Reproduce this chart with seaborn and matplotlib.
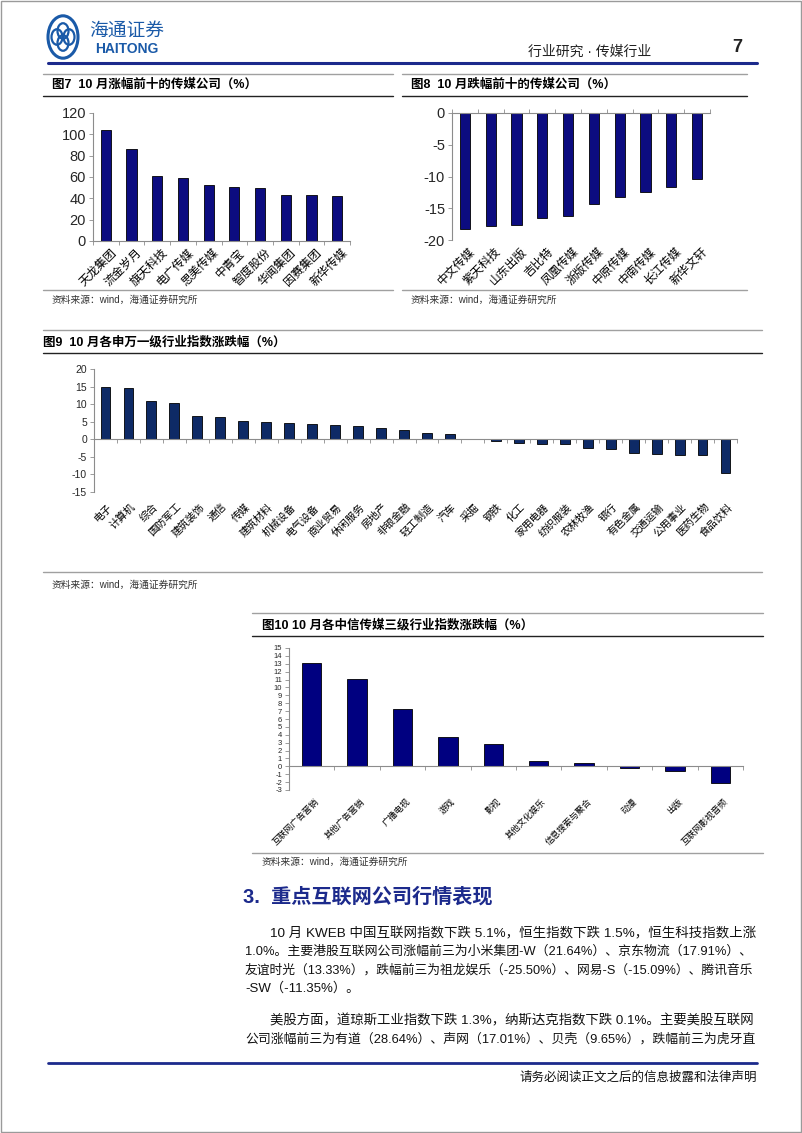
import numpy as np
import matplotlib
matplotlib.use('Agg')
import matplotlib.pyplot as plt
import seaborn as sns
from matplotlib.lines import Line2D
from matplotlib.patches import Circle, Rectangle

# ---- data ----
fig7_names = ['天龙集团', '流金岁月', '旗天科技', '电广传媒', '思美传媒',
              '中青宝', '智度股份', '华闻集团', '因赛集团', '新华传媒']
fig7_vals = [104.0, 85.8, 61.0, 58.7, 52.2, 50.3, 49.3, 43.4, 42.7, 42.1]

fig8_names = ['中文传媒', '紫天科技', '山东出版', '吉比特', '凤凰传媒',
              '浙版传媒', '中原传媒', '中南传媒', '长江传媒', '新华文轩']
fig8_vals = [-18.3, -17.8, -17.7, -16.6, -16.2, -14.3, -13.3, -12.5, -11.6, -10.4]

fig9_names = ['电子', '计算机', '综合', '国防军工', '建筑装饰', '通信', '传媒',
              '建筑材料', '机械设备', '电气设备', '商业贸易', '休闲服务', '房地产',
              '非银金融', '轻工制造', '汽车', '采掘', '钢铁', '化工', '家用电器',
              '纺织服装', '农林牧渔', '银行', '有色金属', '交通运输', '公用事业',
              '医药生物', '食品饮料']
fig9_vals = [14.8, 14.6, 10.9, 10.4, 6.6, 6.3, 5.2, 4.9, 4.7, 4.4, 4.1, 3.7, 3.1,
             2.5, 1.9, 1.4, 0.0, -0.4, -1.1, -1.4, -1.4, -2.4, -2.7, -3.8, -4.1,
             -4.4, -4.6, -9.6]

fig10_names = ['互联网广告营销', '其他广告营销', '广播电视', '游戏', '影视',
               '其他文化娱乐', '信息搜索与聚合', '动漫', '出版', '互联网影视音频']
fig10_vals = [13.15, 11.06, 7.25, 3.77, 2.85, 0.63, 0.38, -0.2, -0.59, -2.09]

para_lines = [
    '10 月 KWEB 中国互联网指数下跌 5.1%，恒生指数下跌 1.5%，恒生科技指数上涨',
    '1.0%。主要港股互联网公司涨幅前三为小米集团-W（21.64%）、京东物流（17.91%）、',
    '友谊时光（13.33%），跌幅前三为祖龙娱乐（-25.50%）、网易-S（-15.09%）、腾讯音乐',
    '-SW（-11.35%）。',
]
para2_lines = [
    '美股方面，道琼斯工业指数下跌 1.3%，纳斯达克指数下跌 0.1%。主要美股互联网',
    '公司涨幅前三为有道（28.64%）、声网（17.01%）、贝壳（9.65%），跌幅前三为虎牙直',
]

sns.set_theme(style='white')
plt.rcParams['font.family'] = ['Liberation Sans', 'Noto Sans CJK SC', 'DejaVu Sans']

W, H = 802, 1133
fig = plt.figure(figsize=(W / 100, H / 100), dpi=100)
fig.patch.set_facecolor('white')

GRAY = '#8c8c8c'
NAVY = '#1c2a8c'


def rect(x0, y0, x1, y1):
    return [x0 / W, 1 - y1 / H, (x1 - x0) / W, (y1 - y0) / H]


def hline(y, x0, x1, color, lw):
    fig.add_artist(Line2D([x0 / W, x1 / W], [1 - y / H, 1 - y / H],
                          transform=fig.transFigure, color=color, lw=lw))


def ftext(x, y, s, **kw):
    return fig.text(x / W, 1 - y / H, s, **kw)


def bar_chart(box, names, vals, ylim, yticks, color, width, ysize, xsize,
              tick_dir='out', lab_off=(2, -7)):
    ax = fig.add_axes(rect(*box))
    sns.barplot(x=names, y=vals, color=color, width=width, edgecolor='black',
                linewidth=0.6, saturation=1, ax=ax)
    n = len(names)
    ax.set_xlim(-0.5, n - 0.5)
    ax.set_ylim(*ylim)
    ax.set_yticks(yticks)
    ax.set_yticklabels([str(t) for t in yticks], fontsize=ysize)
    ax.set_xlabel('')
    ax.set_ylabel('')
    for s in ['top', 'right']:
        ax.spines[s].set_visible(False)
    ax.spines['left'].set_color(GRAY)
    ax.spines['left'].set_linewidth(0.8)
    ax.spines['bottom'].set_position(('data', 0))
    ax.spines['bottom'].set_color(GRAY)
    ax.spines['bottom'].set_linewidth(0.8)
    ax.set_xticks(range(n))
    ax.set_xticklabels([])
    ax.set_xticks(np.arange(-0.5, n, 1.0), minor=True)
    ax.tick_params(axis='x', which='major', length=0)
    ax.tick_params(axis='x', which='minor', length=3, width=0.6, color=GRAY,
                   direction=tick_dir, bottom=True)
    ax.tick_params(axis='y', length=3, width=0.6, color=GRAY, left=True,
                   direction='out', pad=2)
    ax.patch.set_alpha(0)
    for i, name in enumerate(names):
        ax.annotate(name, xy=(i, 0), xycoords=('data', 'axes fraction'),
                    xytext=lab_off, textcoords='offset points', rotation=45,
                    ha='right', va='top', rotation_mode='anchor',
                    fontsize=xsize, color='black')
    return ax


# ---- page frame and header ----
fig.add_artist(Rectangle((0.001, 0.001), 0.998, 0.998, transform=fig.transFigure,
                         fill=False, edgecolor='#9a9a9a', lw=1.0))
fig.add_artist(Circle((63 / W, 1 - 37 / H), 15 / W, transform=fig.transFigure,
                      fill=False, edgecolor='#1a5aa8', lw=2.2))
for dx, dy in [(-6, 0), (6, 0), (0, -6), (0, 6)]:
    fig.add_artist(Circle(((63 + dx) / W, 1 - (37 + dy) / H), 5.5 / W,
                          transform=fig.transFigure, fill=False,
                          edgecolor='#1a5aa8', lw=1.6))
ftext(89, 31, '海通证券', fontsize=13.5, color='#1a5aa8', ha='left', va='center')
ftext(95, 49, 'HAITONG', fontsize=10, color='#1a5aa8', ha='left', va='center',
      fontweight='bold')
ftext(590, 52, '行业研究 · 传媒行业', fontsize=10, color='#222222', ha='center',
      va='center')
ftext(737, 47, '7', fontsize=13, color='#222222', ha='center', va='center',
      fontweight='bold')
hline(63, 48, 757, NAVY, 2.2)

# ---- panel decorations ----
panels = [
    (43, 393, 74, 96, 290, 52, 85, 52, 300, '图7  10 月涨幅前十的传媒公司（%）'),
    (402, 747, 74, 96, 290, 411, 85, 411, 300, '图8  10 月跌幅前十的传媒公司（%）'),
    (43, 762, 330, 353, 572, 43, 342, 52, 585, '图9  10 月各申万一级行业指数涨跌幅（%）'),
    (252, 763, 613, 636, 853, 262, 625, 262, 862, '图10 10 月各中信传媒三级行业指数涨跌幅（%）'),
]
for x0, x1, ytop, yblk, ybot, tx, ty, sx, sy, title in panels:
    hline(ytop, x0, x1, '#a0a0a0', 1.0)
    hline(yblk, x0, x1, '#222222', 1.0)
    hline(ybot, x0, x1, '#a0a0a0', 1.0)
    ftext(tx, ty, title, fontsize=9, fontweight='bold', ha='left', va='center',
          color='black')
    ftext(sx, sy, '资料来源：wind，海通证券研究所', fontsize=7,
          ha='left', va='center', color='#333333')

# ---- charts ----
bar_chart((93, 113, 350, 241), fig7_names, fig7_vals, (0, 120),
          list(range(0, 121, 20)), '#0c0c80', 0.4, 10.5, 8.5, lab_off=(3, -4))
bar_chart((452, 113, 710, 240), fig8_names, fig8_vals, (-20, 0),
          [-20, -15, -10, -5, 0], '#0c0c80', 0.4, 10.5, 8.5, tick_dir='in',
          lab_off=(3, -4))
bar_chart((94, 369, 737, 492), fig9_names, fig9_vals, (-15, 20),
          list(range(-15, 21, 5)), '#0e2a66', 0.43, 7.5, 7.5, lab_off=(1, -7))
bar_chart((289, 648, 743, 790), fig10_names, fig10_vals, (-3, 15),
          list(range(-3, 16)), '#000080', 0.43, 5.5, 6.3, lab_off=(2, -5))

# ---- section text ----
ftext(243, 897, '3.  重点互联网公司行情表现', fontsize=14.5, fontweight='bold',
      color=NAVY, ha='left', va='center')

renderer = fig.canvas.get_renderer()
RIGHT = 757
paragraphs = [(para_lines, [933, 951.5, 970, 988.5]),
              (para2_lines, [1021, 1039.5])]
for lines, ys in paragraphs:
    for i, (line, y) in enumerate(zip(lines, ys)):
        x0 = 270 if i == 0 else 245
        t = ftext(x0, y, line, fontsize=9.5, ha='left', va='center',
                  color='#111111')
        full = (i < len(lines) - 1) or (lines is para2_lines)
        if full:
            w = t.get_window_extent(renderer).width
            scale = min(max((RIGHT - x0) / w, 0.9), 1.1)
            t.set_fontsize(9.5 * scale)
hline(1063, 48, 757, NAVY, 2.0)
ftext(757, 1078, '请务必阅读正文之后的信息披露和法律声明', fontsize=9, ha='right',
      va='center', color='#111111')

fig.savefig('out.png', dpi=100)
